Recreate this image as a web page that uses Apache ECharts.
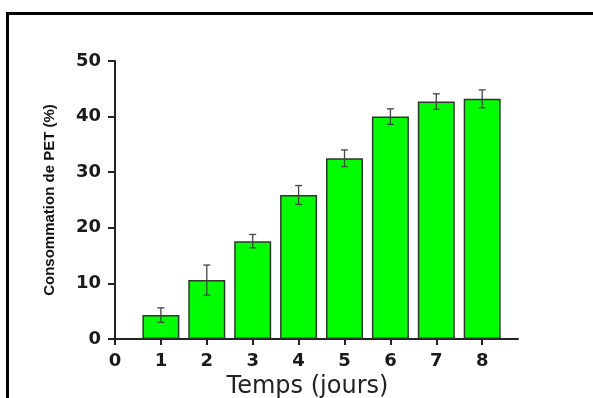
<!DOCTYPE html>
<html>
<head>
<meta charset="utf-8">
<script src="https://cdn.jsdelivr.net/npm/echarts@6/dist/echarts.min.js"></script>
<style>
  html, body { margin: 0; padding: 0; background: #fff; }
  #chart { width: 593px; height: 398px; }
</style>
</head>
<body>
<div id="chart"></div>
<script>
// jours et consommation (%)
const days = [1, 2, 3, 4, 5, 6, 7, 8]
const consumption = [4.3, 10.6, 17.6, 25.9, 32.5, 40.0, 42.7, 43.2]
const errors = [1.3, 2.7, 1.2, 1.7, 1.5, 1.4, 1.4, 1.6]
const xTicks = [0, 1, 2, 3, 4, 5, 6, 7, 8]

const chart = echarts.init(document.getElementById('chart'))

const barData = days.map((d, i) => [d, consumption[i]])
const errData = days.map((d, i) => [d, consumption[i] - errors[i], consumption[i] + errors[i]])

const option = {
  animation: false,
  backgroundColor: '#fff',
  grid: {
    left: 115,
    right: 75,
    top: 61,
    bottom: 59,
    containLabel: false,
    outerBoundsMode: 'none'
  },
  xAxis: {
    type: 'value',
    min: 0,
    max: 8.78,
    interval: 1,
    name: 'Temps (jours)',
    nameLocation: 'middle',
    nameGap: 33,
    nameTextStyle: {
      fontFamily: 'DejaVu Sans',
      fontSize: 24,
      color: '#222',
      padding: [0, 18, 0, 0]
    },
    splitLine: { show: false },
    axisLine: { lineStyle: { color: '#222', width: 2 } },
    axisTick: {
      customValues: xTicks,
      length: 6,
      lineStyle: { color: '#222', width: 2 }
    },
    axisLabel: {
      customValues: xTicks,
      margin: 13,
      fontFamily: 'DejaVu Sans',
      fontWeight: 'bold',
      fontSize: 18,
      color: '#1a1a1a'
    }
  },
  yAxis: {
    type: 'value',
    min: 0,
    max: 50,
    interval: 10,
    name: 'Consommation de PET (%)',
    nameLocation: 'middle',
    nameGap: 58,
    nameTextStyle: {
      fontFamily: 'Liberation Sans',
      fontWeight: 'bold',
      fontSize: 15,
      color: '#111'
    },
    splitLine: { show: false },
    axisLine: { show: true, lineStyle: { color: '#222', width: 2 } },
    axisTick: { show: true, length: 7, lineStyle: { color: '#222', width: 2 } },
    axisLabel: {
      margin: 14,
      fontFamily: 'DejaVu Sans',
      fontWeight: 'bold',
      fontSize: 18,
      color: '#1a1a1a'
    }
  },
  series: [
    {
      type: 'bar',
      data: barData,
      barWidth: 37,
      itemStyle: {
        color: '#00ff00',
        borderColor: '#333',
        borderWidth: 1.5
      }
    },
    {
      type: 'custom',
      data: errData,
      renderItem: function (params, api) {
        const x = api.value(0)
        const lo = api.coord([x, api.value(1)])
        const hi = api.coord([x, api.value(2)])
        const cap = 3.5
        const style = { stroke: '#444', lineWidth: 1.3 }
        return {
          type: 'group',
          children: [
            { type: 'line', shape: { x1: lo[0], y1: lo[1], x2: hi[0], y2: hi[1] }, style: style },
            { type: 'line', shape: { x1: hi[0] - cap, y1: hi[1], x2: hi[0] + cap, y2: hi[1] }, style: style },
            { type: 'line', shape: { x1: lo[0] - cap, y1: lo[1], x2: lo[0] + cap, y2: lo[1] }, style: style }
          ]
        }
      },
      z: 5
    }
  ],
  graphic: [
    { type: 'rect', shape: { x: 6, y: 12, width: 600, height: 3 }, style: { fill: '#000' } },
    { type: 'rect', shape: { x: 6, y: 12, width: 3, height: 400 }, style: { fill: '#000' } }
  ]
}

chart.setOption(option)
</script>
</body>
</html>
